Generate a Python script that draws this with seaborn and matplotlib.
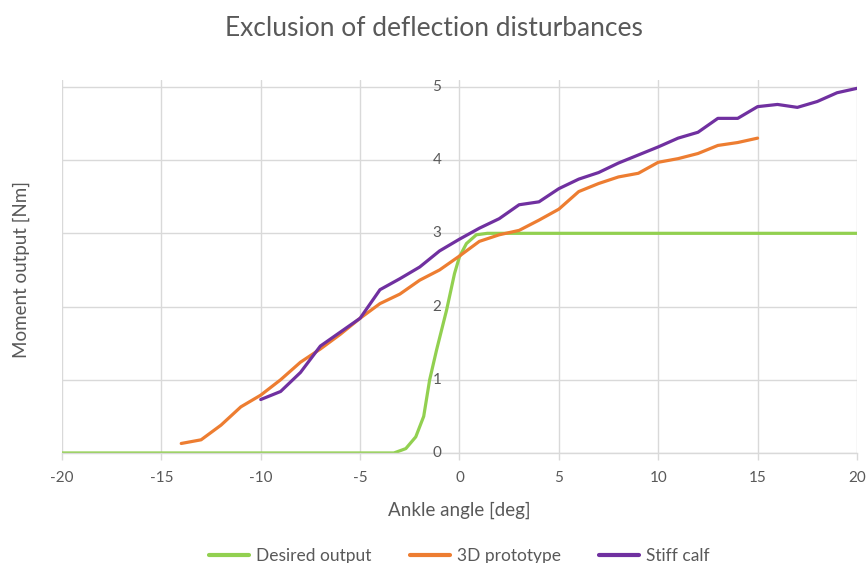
import matplotlib
matplotlib.use("Agg")
import matplotlib.pyplot as plt
import seaborn as sns
import pandas as pd

# ---- data ----
desired_x = [-20, -3.3, -2.7, -2.2, -1.8, -1.5, -1.15, -0.65, -0.25, 0, 0.35, 0.85, 1.4, 20]
desired_y = [0, 0, 0.06, 0.22, 0.5, 1.0, 1.41, 1.95, 2.45, 2.68, 2.86, 2.98, 3.0, 3.0]

proto_x = list(range(-14, 16))
proto_y = [0.13, 0.18, 0.38, 0.63, 0.79, 1.0, 1.24, 1.42, 1.62, 1.84, 2.04, 2.17, 2.36, 2.5,
           2.69, 2.89, 2.98, 3.04, 3.18, 3.33, 3.57, 3.68, 3.77, 3.82, 3.97, 4.02, 4.09, 4.2, 4.24, 4.30]

stiff_x = list(range(-10, 21))
stiff_y = [0.73, 0.84, 1.1, 1.46, 1.65, 1.84, 2.23, 2.38, 2.54, 2.76, 2.92, 3.07, 3.2, 3.39, 3.43,
           3.61, 3.74, 3.83, 3.96, 4.07, 4.18, 4.3, 4.38, 4.57, 4.57, 4.73, 4.76, 4.72, 4.8, 4.92, 4.98]

series_names = ["Desired output", "3D prototype", "Stiff calf"]
colors = ["#92D050", "#ED7D31", "#7030A0"]
x_ticks = [-20, -15, -10, -5, 0, 5, 10, 15, 20]
y_ticks = [0, 1, 2, 3, 4, 5]

frames = []
for name, xs, ys in zip(series_names, [desired_x, proto_x, stiff_x], [desired_y, proto_y, stiff_y]):
    frames.append(pd.DataFrame({"angle": xs, "moment": ys, "series": name}))
df = pd.concat(frames, ignore_index=True)

sns.set_theme(style="white")
plt.rcParams["font.family"] = ["Lato", "DejaVu Sans"]
text_color = "#595959"
grid_color = "#D9D9D9"

fig = plt.figure(figsize=(8.68, 5.63), dpi=100)
ax = fig.add_axes([0.0714, 0.1954, 0.9159, 0.662])

sns.lineplot(data=df, x="angle", y="moment", hue="series", hue_order=series_names,
             palette=colors, estimator=None, sort=False, linewidth=2.3, ax=ax)

ax.set_xlim(-20, 20)
ax.set_ylim(0, 5.09)
ax.set_xticks(x_ticks)
ax.set_xticklabels([str(t) for t in x_ticks])
ax.set_yticks(y_ticks)

ax.grid(True, color=grid_color, linewidth=1.0)
ax.set_axisbelow(True)

for s in ["top", "right", "left"]:
    ax.spines[s].set_visible(False)
ax.spines["bottom"].set_color(grid_color)
ax.spines["bottom"].set_linewidth(1.0)

ax.tick_params(axis="x", which="major", direction="out", length=5, width=1.0,
               color=grid_color, labelcolor=text_color, labelsize=11, pad=8, bottom=True)
ax.tick_params(axis="y", which="major", length=0)
ax.set_yticklabels([])
# y tick labels sit beside the vertical axis at x = 0
for t in y_ticks:
    ax.annotate(str(t), xy=(0, t), xycoords="data", xytext=(-13, 0), textcoords="offset points",
                ha="right", va="center", fontsize=11, color=text_color, annotation_clip=False)

ax.set_xlabel("Ankle angle [deg]", fontsize=13.5, color=text_color, labelpad=12)
ax.set_ylabel("Moment output [Nm]", fontsize=13.5, color=text_color)
ax.yaxis.set_label_coords(-0.04, 0.5 * 5 / 5.09)

fig.suptitle("Exclusion of deflection disturbances", fontsize=19, color=text_color, y=0.972)

leg = ax.legend(loc="center", bbox_to_anchor=(0.5, -0.277), ncol=3, frameon=False,
                fontsize=12.5, handlelength=2.3, columnspacing=2.2, handletextpad=0.4)
for txt in leg.get_texts():
    txt.set_color(text_color)
for line in leg.get_lines():
    line.set_linewidth(3)

fig.savefig("out.png", dpi=100)
